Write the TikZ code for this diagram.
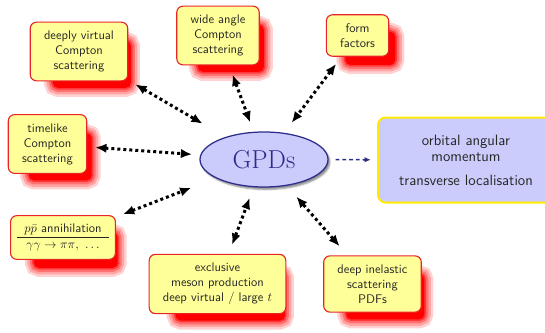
\documentclass[tikz,border=0pt]{standalone}
\usepackage{amsmath}
\usetikzlibrary{arrows.meta,shapes.geometric,shadows,shadows.blur}

\definecolor{boxyellow}{RGB}{255,255,153}
\definecolor{boxred}{RGB}{232,36,40}
\definecolor{gpdfill}{RGB}{204,204,252}
\definecolor{gpdline}{RGB}{44,44,140}
\definecolor{frameyellow}{RGB}{255,236,0}

\begin{document}
\begin{tikzpicture}[
        x=0.8pt, y=-0.8pt,
        font=\sffamily,
        redshadow/.style={
            general shadow={shadow scale=0.8, shadow xshift=12.8pt,
                shadow yshift=-12.8pt, #1}
        },
        process/.style={
            rectangle, rounded corners=5pt, draw=boxred, line width=0.9pt,
            fill=boxyellow, text=black!85, align=center,
            inner xsep=11pt, inner ysep=7pt,
            redshadow={draw=red, line width=18pt, opacity=0.18},
            redshadow={draw=red, line width=13pt, opacity=0.22},
            redshadow={draw=red, line width=8pt, opacity=0.3},
            redshadow={draw=red, line width=3.5pt, opacity=0.5},
            redshadow={fill=red}
        },
        gpd/.style={
            ellipse, draw=gpdline, line width=1pt, fill=gpdfill,
            minimum width=102.4pt, minimum height=44pt, inner sep=0pt,
            text=gpdline, font=\rmfamily\huge,
            blur shadow={shadow xshift=1.6pt, shadow yshift=-2pt,
                shadow blur radius=1.2pt, shadow opacity=45}
        },
        result/.style={
            rectangle, rounded corners=6pt, draw=frameyellow, line width=1.6pt,
            fill=gpdfill, text=black!85, align=center, font=\sffamily\large,
            minimum width=140.8pt, minimum height=68pt
        },
        link/.style={
            {Latex[length=9pt,width=7.5pt]}-{Latex[length=9pt,width=7.5pt]},
            line width=2.4pt, dash pattern=on 2.4pt off 2.4pt
        },
        flow/.style={
            -{Latex[length=5pt,width=4.5pt]}, draw=gpdline,
            line width=1.2pt, dash pattern=on 3pt off 2.4pt,
            shorten <=5.6pt, shorten >=5pt
        }
    ]

        \useasboundingbox (0,0) rectangle (545,332);

        % Centre
        \node[gpd] (gpd) at (264,159.5) {GPDs};

        % Processes around it
        \node[process] (dvcs) at (79,51.5) {deeply virtual\\Compton\\scattering};
        \node[process] (wacs) at (218,35.5) {wide angle\\Compton\\scattering};
        \node[process] (form) at (357.5,35.5) {form\\factors};
        \node[process] (tcs) at (47.5,144) {timelike\\Compton\\scattering};
        \node[process, inner xsep=5pt, inner ysep=5pt] (ppbar) at (63,237.5) {%
            \setlength{\arrayrulewidth}{1pt}%
            \begin{tabular}{c}
                $p\bar{p}$ annihilation\\ \hline
                $\gamma\gamma\to\pi\pi,\ \ldots$
            \end{tabular}};
        \node[process] (meson) at (217.5,284) {exclusive\\meson production\\deep virtual $/$ large $t$};
        \node[process] (dis) at (372.5,284) {deep inelastic\\scattering\\PDFs};

        % What it gives access to
        \node[result] (orbit) at (466,160) {orbital angular\\[-1pt]momentum\\[5pt]transverse localisation};

        % Links
        \draw[link, shorten <=6.5pt, shorten >=21pt] (dvcs) -- (gpd);
        \draw[link, shorten <=7.7pt, shorten >=7.8pt] (wacs) -- (gpd);
        \draw[link, shorten <=7pt, shorten >=9.9pt] (form) -- (gpd);
        \draw[link, shorten <=6.4pt, shorten >=6.5pt] (tcs) -- (gpd);
        \draw[link, shorten <=6pt, shorten >=21pt] (ppbar) -- (gpd);
        \draw[link, shorten <=7.7pt, shorten >=9pt] (meson) -- (gpd);
        \draw[link, shorten <=9.5pt, shorten >=11.4pt] (dis) -- (gpd);

        \draw[flow] (gpd) -- (orbit);

    \end{tikzpicture}
\end{document}
